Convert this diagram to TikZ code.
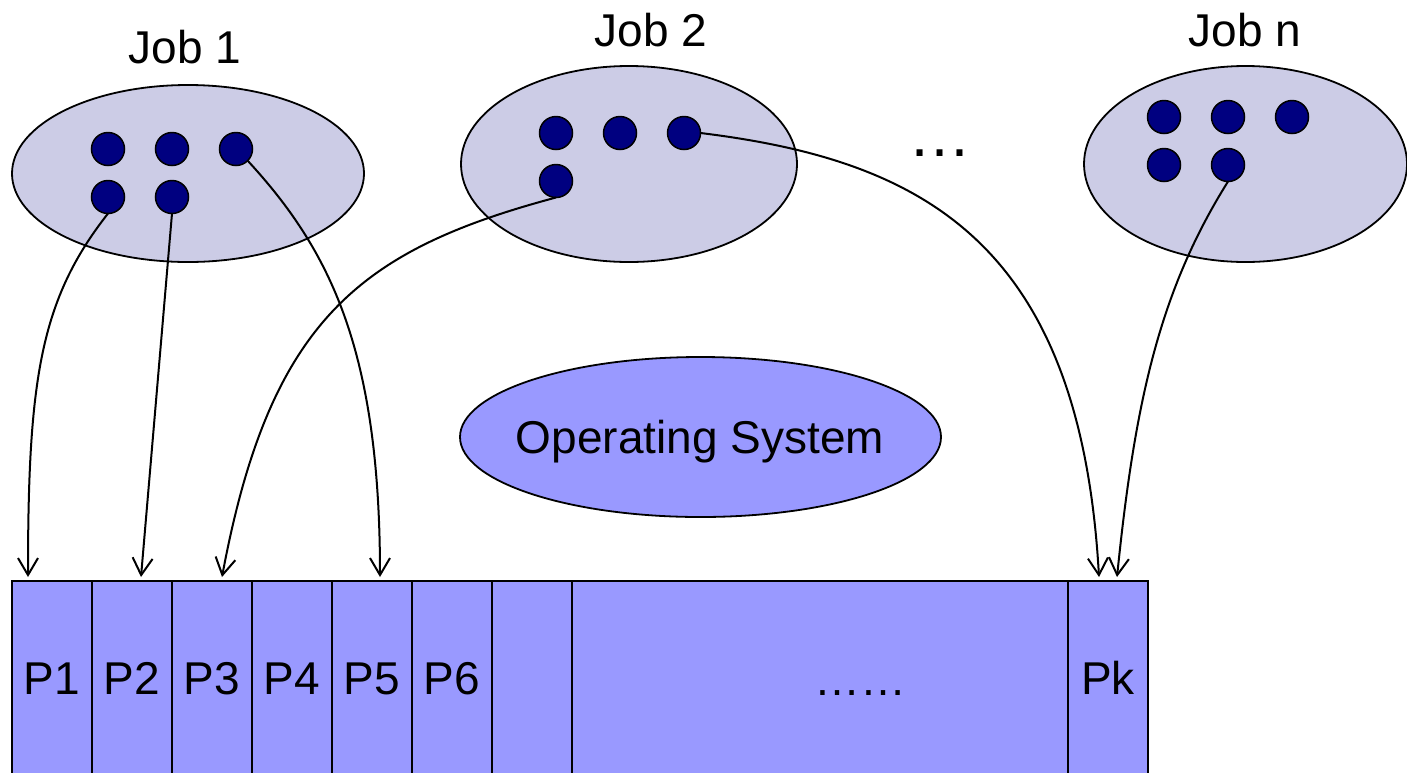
\documentclass[tikz,border=0pt]{standalone}
\usepackage{fontspec}
\setmainfont{Liberation Sans}
\usetikzlibrary{arrows.meta,shapes.geometric}
\definecolor{jobfill}{HTML}{CCCCE6}
\definecolor{dotfill}{HTML}{000080}
\definecolor{osfill}{HTML}{9999FF}
\tikzset{
  jobell/.style={ellipse, draw, line width=1.8pt, fill=jobfill, inner sep=0pt, outer sep=0pt},
  osell/.style={ellipse, draw, line width=1.8pt, fill=osfill, inner sep=0pt, outer sep=0pt},
  thread/.style={circle, draw, line width=1.5pt, fill=dotfill, minimum size=33pt, inner sep=0pt, outer sep=0pt},
  cell/.style={rectangle, draw, line width=1.8pt, fill=osfill, minimum height=194pt, inner sep=0pt,
               outer sep=0pt, anchor=north west, text height=33pt, text depth=0pt},
  conn/.style={draw, line width=2pt, -{Straight Barb[length=17pt,width=20pt]}},
  lbl/.style={anchor=base}
}
\begin{document}
\begin{tikzpicture}[x=1pt,y=-1pt, font=\fontsize{46}{55}\selectfont]
\useasboundingbox (0,0) rectangle (1407,772);
\clip (0,0) rectangle (1407,772);

% job ellipses
\node[jobell, minimum width=352pt, minimum height=177pt] (job1) at (188,173.5) {};
\node[jobell, minimum width=336pt, minimum height=196pt] (job2) at (629,164) {};
\node[jobell, minimum width=323pt, minimum height=196pt] (jobn) at (1245.5,164) {};

% labels
\node[lbl] (lj1) at (185,63) {Job 1};
\node[lbl] (lj2) at (651,46) {Job 2};
\node[lbl] (ljn) at (1245,46) {Job n};
\node[lbl, font=\fontsize{63}{70}\selectfont] (more) at (940,156) {…};

% threads job 1
\node[thread] (a1) at (108,149) {};
\node[thread] (a2) at (172,149) {};
\node[thread] (a3) at (236,149) {};
\node[thread] (a4) at (108,197) {};
\node[thread] (a5) at (172,197) {};
% threads job 2
\node[thread] (b1) at (556,133) {};
\node[thread] (b2) at (620,133) {};
\node[thread] (b3) at (684,133) {};
\node[thread] (b4) at (556,181) {};
% threads job n
\node[thread] (n1) at (1164,117) {};
\node[thread] (n2) at (1228,117) {};
\node[thread] (n3) at (1292,117) {};
\node[thread] (n4) at (1164,165) {};
\node[thread] (n5) at (1228,165) {};

% operating system
\node[osell, minimum width=481pt, minimum height=160pt] (os) at (700.5,437) {};
\node[lbl] (ostext) at (700,453) {Operating System};

% memory partitions
\node[cell, minimum width=80pt] (p1) at (12,581) {P1};
\node[cell, minimum width=80pt] (p2) at (92,581) {P2};
\node[cell, minimum width=80pt] (p3) at (172,581) {P3};
\node[cell, minimum width=80pt] (p4) at (252,581) {P4};
\node[cell, minimum width=80pt] (p5) at (332,581) {P5};
\node[cell, minimum width=80pt] (p6) at (412,581) {P6};
\node[cell, minimum width=80pt] (p7) at (492,581) {};
\node[cell, minimum width=496pt] (pdots) at (572,581) {};
\node[cell, minimum width=80pt] (pk) at (1068,581) {Pk};
\node[lbl] (pdotstext) at (860,695) {……};

% arrow targets
\coordinate (t1) at (28,577);
\coordinate (t2) at (141,577);
\coordinate (t3) at (222,577);
\coordinate (t5) at (380,577);
\coordinate (tk1) at (1099,577);
\coordinate (tk2) at (1117,577);

% connectors
\draw[conn] (a4.south) .. controls (40,300) and (28,380) .. (t1);
\draw[conn] (a5.south) -- (t2);
\draw[conn] (a3.-45) .. controls (330,250) and (380,350) .. (t5);
\draw[conn] (b4.south) .. controls (360,250) and (270,320) .. (t3);
\draw[conn] (b3.east) .. controls (920,160) and (1080,240) .. (tk1);
\draw[conn] (n5.south) .. controls (1160,290) and (1135,400) .. (tk2);
\end{tikzpicture}
\end{document}
